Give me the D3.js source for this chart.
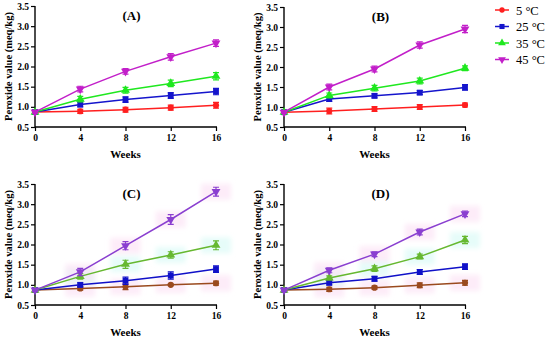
<!DOCTYPE html>
<html>
<head>
<meta charset="utf-8">
<script src="https://d3js.org/d3.v7.min.js"></script>
<style>
body { margin: 0; background: #fff; }
text { font-family: "Liberation Serif", "Times New Roman", serif; }
</style>
</head>
<body>
<div id="chart"></div>
<script>
var W = 550, H = 340;

var weeks = [0, 4, 8, 12, 16];
var series = ["5 \u00B0C", "25 \u00B0C", "35 \u00B0C", "45 \u00B0C"];
var panelNames = ["(A)", "(B)", "(C)", "(D)"];
var yTicks = [0.5, 1.0, 1.5, 2.0, 2.5, 3.0, 3.5];

// peroxide values per panel, one row per temperature
var dataA = [
  [0.87, 0.89, 0.93, 0.98, 1.04],
  [0.87, 1.06, 1.18, 1.28, 1.38],
  [0.87, 1.19, 1.41, 1.58, 1.76],
  [0.87, 1.44, 1.88, 2.24, 2.58]
];
var dataB = [
  [0.87, 0.90, 0.95, 1.00, 1.05],
  [0.87, 1.20, 1.28, 1.36, 1.49],
  [0.87, 1.29, 1.47, 1.65, 1.97],
  [0.87, 1.50, 1.95, 2.55, 2.95]
];
var dataC = [
  [0.87, 0.91, 0.95, 1.00, 1.04],
  [0.87, 1.00, 1.10, 1.23, 1.39],
  [0.87, 1.21, 1.51, 1.74, 1.98],
  [0.87, 1.32, 1.97, 2.62, 3.31]
];
var dataD = [
  [0.87, 0.89, 0.93, 0.99, 1.05],
  [0.87, 1.05, 1.15, 1.32, 1.45],
  [0.87, 1.17, 1.40, 1.70, 2.11],
  [0.87, 1.36, 1.76, 2.31, 2.76]
];
// standard deviations (approx. from error bars)
var errA = [
  [0.03, 0.05, 0.06, 0.06, 0.07],
  [0.03, 0.06, 0.07, 0.07, 0.08],
  [0.03, 0.07, 0.07, 0.08, 0.09],
  [0.03, 0.07, 0.07, 0.08, 0.08]
];
var errB = [
  [0.03, 0.07, 0.06, 0.06, 0.05],
  [0.03, 0.06, 0.05, 0.05, 0.07],
  [0.03, 0.06, 0.07, 0.07, 0.06],
  [0.03, 0.07, 0.07, 0.08, 0.09]
];
var errC = [
  [0.03, 0.04, 0.07, 0.02, 0.05],
  [0.03, 0.05, 0.09, 0.09, 0.08],
  [0.03, 0.07, 0.10, 0.08, 0.11],
  [0.03, 0.09, 0.10, 0.12, 0.11]
];
var errD = [
  [0.03, 0.05, 0.04, 0.06, 0.06],
  [0.03, 0.05, 0.06, 0.06, 0.07],
  [0.03, 0.05, 0.07, 0.06, 0.09],
  [0.03, 0.06, 0.06, 0.07, 0.07]
];

var colorsTop = ["#ff1f1f", "#1515cc", "#1fe81f", "#c21fc9"];
var colorsBottom = ["#9a4a1e", "#1010c8", "#66b830", "#8a3fd0"];
var symbols = [d3.symbolCircle, d3.symbolSquare, d3.symbolTriangle, d3.symbolTriangle];

var panels = [
  { name: panelNames[0], data: dataA, err: errA, colors: colorsTop, x0: 35, x1: 216, y0: 127, y1: 6, glow: false },
  { name: panelNames[1], data: dataB, err: errB, colors: colorsTop, x0: 284, x1: 465, y0: 127, y1: 7, glow: false },
  { name: panelNames[2], data: dataC, err: errC, colors: colorsBottom, x0: 35, x1: 216, y0: 305, y1: 184, glow: true },
  { name: panelNames[3], data: dataD, err: errD, colors: colorsBottom, x0: 284, x1: 465, y0: 305, y1: 184, glow: true }
];

var svg = d3.select("#chart").append("svg")
  .attr("width", W).attr("height", H);

var defs = svg.append("defs");
defs.append("filter").attr("id", "soft")
  .append("feGaussianBlur").attr("stdDeviation", 2.5);

panels.forEach(function(p) {
  var x = d3.scaleLinear().domain([0, 16]).range([p.x0, p.x1]);
  var y = d3.scaleLinear().domain([0.5, 3.5]).range([p.y0, p.y1]);
  var g = svg.append("g");

  // faint highlight blobs seen in the lower panels
  if (p.glow) {
    var hl = g.append("g").attr("filter", "url(#soft)");
    p.data.forEach(function(row, si) {
      if (si == 1) return;
      row.forEach(function(v, i) {
        if (i == 0) return;
        hl.append("rect")
          .attr("x", x(weeks[i]) - 15).attr("y", y(v) - 8)
          .attr("width", 30).attr("height", 16)
          .attr("fill", si == 2 ? "#d6faf5" : "#fbe0f4")
          .attr("opacity", 0.6);
      });
    });
  }

  // axes
  var xa = g.append("g").attr("transform", "translate(0," + p.y0 + ")")
    .call(d3.axisBottom(x).tickValues(weeks).tickSize(4).tickPadding(3));
  var ya = g.append("g").attr("transform", "translate(" + p.x0 + ",0)")
    .call(d3.axisLeft(y).tickValues(yTicks).tickSize(4).tickPadding(2).tickFormat(d3.format(".1f")));
  [xa, ya].forEach(function(a) {
    a.select(".domain").attr("stroke", "#000").attr("stroke-width", 1.4);
    a.selectAll(".tick line").attr("stroke", "#000").attr("stroke-width", 1.2);
    a.selectAll("text").attr("font-family", "Liberation Serif").attr("font-weight", "bold")
      .attr("font-size", 9.5).attr("fill", "#000");
  });
  xa.select(".domain").attr("d", "M" + p.x0 + ",0H" + (p.x1 + 1));
  ya.select(".domain").attr("d", "M0," + p.y0 + "V" + p.y1);

  g.append("text")
    .attr("x", (p.x0 + p.x1) / 2).attr("y", p.y0 + 31)
    .attr("text-anchor", "middle").attr("font-weight", "bold").attr("font-size", 11)
    .text("Weeks");
  g.append("text")
    .attr("transform", "translate(" + (p.x0 - 23) + "," + ((p.y0 + p.y1) / 2) + ") rotate(-90)")
    .attr("text-anchor", "middle").attr("font-weight", "bold").attr("font-size", 10.5)
    .text("Peroxide value (meq/kg)");
  g.append("text")
    .attr("x", (p.x0 + p.x1) / 2 + 6).attr("y", p.y1 + 14)
    .attr("text-anchor", "middle").attr("font-weight", "bold").attr("font-size", 13)
    .text(p.name);

  var line = d3.line().x(function(d, i) { return x(weeks[i]); }).y(function(d) { return y(d); });

  p.data.forEach(function(row, si) {
    var c = p.colors[si];
    g.append("path").datum(row)
      .attr("d", line).attr("fill", "none")
      .attr("stroke", c).attr("stroke-width", 1.5);
    row.forEach(function(v, i) {
      var e = p.err[si][i], xx = x(weeks[i]);
      g.append("path")
        .attr("d", "M" + xx + "," + y(v - e) + "V" + y(v + e) +
          "M" + (xx - 3) + "," + y(v - e) + "H" + (xx + 3) +
          "M" + (xx - 3) + "," + y(v + e) + "H" + (xx + 3))
        .attr("stroke", c).attr("stroke-width", 1.2).attr("fill", "none");
      g.append("path")
        .attr("d", d3.symbol().type(symbols[si]).size(si == 0 ? 30 : 34)())
        .attr("transform", "translate(" + xx + "," + y(v) + ")" + (si == 3 ? " rotate(180)" : ""))
        .attr("fill", c);
    });
  });
});

// legend
var leg = svg.append("g");
series.forEach(function(s, i) {
  var yy = 10 + i * 16.5, c = colorsTop[i];
  leg.append("line").attr("x1", 495).attr("x2", 509).attr("y1", yy).attr("y2", yy)
    .attr("stroke", c).attr("stroke-width", 1.5);
  leg.append("path")
    .attr("d", d3.symbol().type(symbols[i]).size(i == 0 ? 22 : 26)())
    .attr("transform", "translate(502," + yy + ")" + (i == 3 ? " rotate(180)" : ""))
    .attr("fill", c);
  leg.append("text").attr("x", 516).attr("y", yy + 4.5)
    .attr("font-size", 12.5).attr("fill", "#000").text(s);
});
</script>
</body>
</html>
